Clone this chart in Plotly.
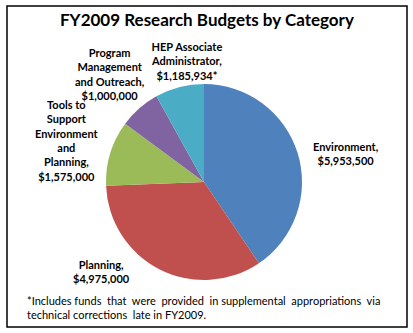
import plotly.graph_objects as go

categories = ["Environment", "Planning", "Tools to Support Environment and Planning",
              "Program Management and Outreach", "HEP Associate Administrator"]
values = [5953500, 4975000, 1575000, 1000000, 1185934]
colors = ["#4F81BD", "#C0504D", "#9BBB59", "#8064A2", "#4BACC6"]
label_lines = [
    "Environment,",
    "Planning,",
    "Tools to<br>Support<br>Environment<br>and<br>Planning,",
    "Program<br>Management<br>and Outreach,",
    "HEP Associate<br>Administrator,",
]
suffix = ["", "", "", "", "*"]
title = "FY2009 Research Budgets by Category"
footnote = ("*Includes funds&nbsp; that&nbsp; were&nbsp; provided&nbsp; in supplemental&nbsp; "
            "appropriations&nbsp; via<br>technical corrections&nbsp; late in FY2009.")

W, H = 413, 333
FONT = "Lato, 'Open Sans', sans-serif"

fig = go.Figure(go.Pie(
    labels=categories, values=values, sort=False, direction="clockwise", rotation=0,
    marker=dict(colors=colors, line=dict(width=0)), textinfo="none", hoverinfo="label+value",
    domain=dict(x=[106 / W, 302 / W], y=[1 - 280 / H, 1 - 84 / H]), showlegend=False,
))

# label anchor positions (pixel centers)
pos = [(346, 153), (101, 271), (67, 140), (110, 74), (186, 61)]
anns = []
for i, (x, y) in enumerate(pos):
    txt = f"{label_lines[i]}<br>${values[i]:,}{suffix[i]}"
    anns.append(dict(x=x / W, y=1 - y / H, xref="paper", yref="paper", text=f"<b>{txt}</b>",
                     showarrow=False, xanchor="center", yanchor="middle", align="center",
                     font=dict(family=FONT, size=11, color="black")))
anns.append(dict(x=207 / W, y=1 - 20 / H, xref="paper", yref="paper", text=f"<b>{title}</b>",
                 showarrow=False, xanchor="center", yanchor="middle",
                 font=dict(family=FONT, size=17, color="black")))
anns.append(dict(x=25 / W, y=1 - 307.5 / H, xref="paper", yref="paper", text=footnote,
                 showarrow=False, xanchor="left", yanchor="middle", align="left",
                 font=dict(family=FONT, size=11, color="black")))

fig.update_layout(
    width=W, height=H, margin=dict(l=0, r=0, t=0, b=0),
    paper_bgcolor="white", plot_bgcolor="white", annotations=anns,
    shapes=[dict(type="rect", xref="paper", yref="paper", x0=7 / W, x1=407 / W,
                 y0=1 - 327 / H, y1=1 - 6 / H, line=dict(color="black", width=1.5))],
)
fig.write_html("out.html")
